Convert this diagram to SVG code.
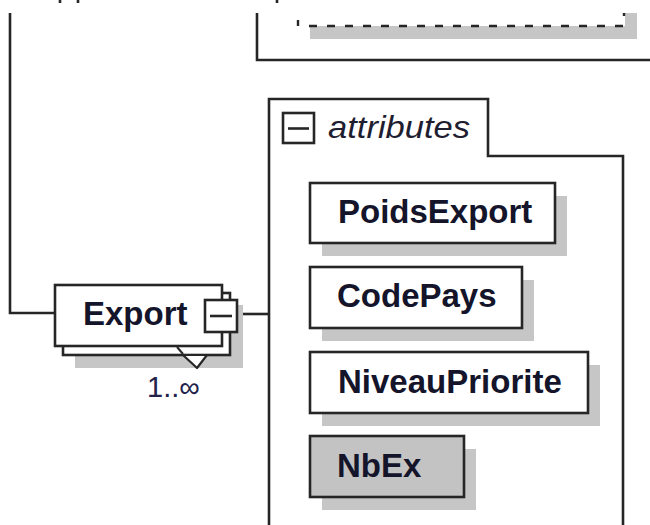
<svg xmlns="http://www.w3.org/2000/svg" width="650" height="525" viewBox="0 0 650 525">
<style>
.box{fill:#fff;stroke:#262626;stroke-width:2.6}
.gbox{fill:#c3c3c3;stroke:#262626;stroke-width:2.6}
.sh{fill:#c6c6c6}
.ln{fill:none;stroke:#262626;stroke-width:2.6}
.lbl{font-family:"Liberation Sans",Arial,sans-serif;font-weight:bold;font-size:33px;fill:#14142a}
.it{font-family:"Liberation Sans",Arial,sans-serif;font-style:italic;font-size:32px;fill:#1e1e30}
.occ{font-family:"Liberation Sans",Arial,sans-serif;font-size:29px;fill:#22224a}
</style>
<rect width="650" height="525" fill="#fff"/>
<g id="top-fragments">
<line x1="60" y1="0" x2="60" y2="3" class="ln"/>
<line x1="78" y1="0" x2="78" y2="3" class="ln"/>
<line x1="277" y1="0" x2="277" y2="3" class="ln"/>
</g>
<g id="upper-container">
<path d="M257,13 V60 H650" class="ln"/>
<rect x="310" y="13" width="327" height="26" class="sh"/>
<rect x="298" y="13" width="327" height="13" fill="#fff"/>
<line x1="309" y1="26" x2="625" y2="26" stroke="#262626" stroke-width="2.6" stroke-dasharray="8 10"/>
<line x1="298" y1="20" x2="298" y2="26" stroke="#262626" stroke-width="2.4"/>
<line x1="624" y1="13" x2="624" y2="16" stroke="#262626" stroke-width="2.4"/>
</g>
<g id="connectors">
<path d="M10,13 V313 H55" class="ln"/>
<path d="M237,314 H269" class="ln"/>
</g>
<g id="Export">
<rect x="75" y="305" width="168" height="63" class="sh"/>
<rect x="63" y="293" width="167" height="62" class="box"/>
<rect x="55" y="285" width="167" height="61" class="box"/>
<path d="M183,355 L197,368 L207,355 Z" fill="#fff" stroke="#262626" stroke-width="2.2" stroke-linejoin="round"/>
<line x1="177" y1="347" x2="183" y2="354" stroke="#262626" stroke-width="2"/>
<rect x="205" y="300" width="32" height="32" class="box"/>
<line x1="210" y1="316" x2="232" y2="316" class="ln"/>
<text x="83" y="325" class="lbl">Export</text>
<text x="147" y="397" class="occ">1..∞</text>
</g>
<g id="attributes">
<path d="M269,525 V99 H488 V156 H623 V525" class="ln"/>
<rect x="283" y="113" width="31" height="30" class="box"/>
<line x1="288" y1="128.5" x2="309" y2="128.5" class="ln"/>
<text x="328" y="138" class="it" textLength="142" lengthAdjust="spacingAndGlyphs">attributes</text>
</g>
<g id="PoidsExport">
<rect x="322" y="196" width="245" height="60" class="sh"/>
<rect x="310" y="183" width="245" height="60" class="box"/>
<text x="338" y="223" class="lbl">PoidsExport</text>
</g>
<g id="CodePays">
<rect x="322" y="280" width="212" height="61" class="sh"/>
<rect x="310" y="267" width="212" height="61" class="box"/>
<text x="337" y="307" class="lbl">CodePays</text>
</g>
<g id="NiveauPriorite">
<rect x="322" y="365" width="278" height="61" class="sh"/>
<rect x="310" y="352" width="278" height="61" class="box"/>
<text x="338" y="393" class="lbl">NiveauPriorite</text>
</g>
<g id="NbEx">
<rect x="322" y="449" width="154" height="61" class="sh"/>
<rect x="310" y="436" width="154" height="61" class="gbox"/>
<text x="337" y="477" class="lbl">NbEx</text>
</g>
</svg>
